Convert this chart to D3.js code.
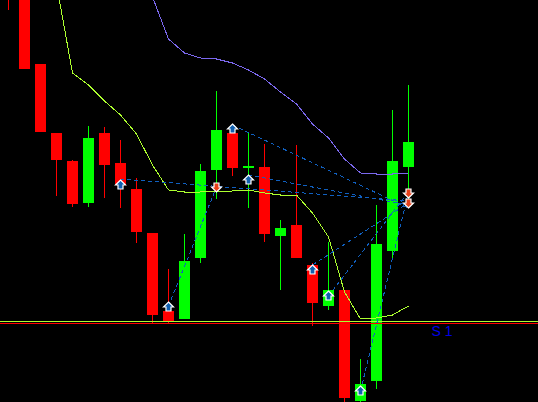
<!DOCTYPE html>
<html><head><meta charset="utf-8">
<script src="https://cdn.jsdelivr.net/npm/d3@7"></script>
<style>html,body{margin:0;padding:0;background:#000;overflow:hidden}svg{display:block}</style>
</head><body><svg id="c" width="538" height="402"></svg>
<script>
// Candles, by bar index 0..25 (price units)
const open  = [422,412,338,269,241,199,269,239,213,169,91,83,144,232,269,234,235,166,177,137,96,112,1,21,151,235];
const close = [407,333,270,242,198,264,237,217,170,87,81,141,231,272,234,236,168,174,144,99,112,4,18,158,241,260];
const high  = [432,417,338,269,242,276,275,262,224,169,133,168,238,311,274,269,258,182,257,139,160,112,43,197,292,317];
const low   = [392,333,270,206,195,195,204,194,159,79,79,83,139,203,226,194,160,112,144,76,92,-3,-3,13,144,195];
// Moving averages
const slowStart = 9;
const slowMA = [405,363,349,344,343,339,332,323,310,298,278,264,243,229,228,228,229];
const fastStart = 3;
const fastMA = [418,329,317,301,287,268,237,212,210,210,211,211,212,209,207,207,189,165,110,83,84,87,96];
// Signal arrows
const upIdx   = [7,10,14,15,19,20,22];
const upPrice = [217,95,273,222,132,106,11];
const downIdx   = [13,25,25];
const downPrice = [215,209,199];
// Dashed links between signals
const linkFromIdx   = [7,10,14,15,19,20,22];
const linkFromPrice = [223,96,277,227,137,106,11];
const linkToIdx     = [25,13,25,25,25,25,25];
const linkToPrice   = [201,215,194,197,199,210,210];
// Horizontal levels
const levelPrices = [81,79];
const levelColors = ["#adff2f","#ff0000"];
const levelLabel = "S 1";
const levelLabelIdx = 26.5;

const W = 538, H = 402;
const x = d3.scaleLinear().domain([0,25]).range([8,408]);
const y = d3.scaleLinear().domain([0,402]).range([402,0]);
const svg = d3.select("#c");
svg.append("rect").attr("width",W).attr("height",H).attr("fill","#000");
const bars = d3.range(open.length);
const col = i => close[i] >= open[i] ? "#00ff00" : "#ff0000";

const g = svg.append("g").attr("shape-rendering","crispEdges");
g.selectAll(".wick").data(bars).join("rect").attr("class","wick")
  .attr("x",i=>x(i)).attr("width",1)
  .attr("y",i=>y(high[i])).attr("height",i=>y(low[i])-y(high[i]))
  .attr("fill",col);
g.selectAll(".body").data(bars).join("rect").attr("class","body")
  .attr("x",i=>x(i)-5).attr("width",11)
  .attr("y",i=>y(Math.max(open[i],close[i])))
  .attr("height",i=>Math.abs(y(open[i])-y(close[i])))
  .attr("fill",col);

const line = start => d3.line().x((d,k)=>x(k+start)+0.5).y(d=>y(d));
svg.append("path").attr("d",line(slowStart)(slowMA)).attr("fill","none")
  .attr("stroke","#7b68ee").attr("stroke-width",1).attr("shape-rendering","crispEdges");
svg.append("path").attr("d",line(fastStart)(fastMA)).attr("fill","none")
  .attr("stroke","#adff2f").attr("stroke-width",1).attr("shape-rendering","crispEdges");

svg.selectAll(".lvl").data(levelPrices).join("rect").attr("class","lvl")
  .attr("x",0).attr("width",W).attr("y",d=>y(d)).attr("height",1)
  .attr("shape-rendering","crispEdges")
  .attr("fill",(d,i)=>levelColors[i]);

svg.selectAll(".link").data(linkFromIdx).join("line").attr("class","link")
  .attr("x1",(d,i)=>x(linkFromIdx[i])+0.5).attr("y1",(d,i)=>y(linkFromPrice[i]))
  .attr("x2",(d,i)=>x(linkToIdx[i])+0.5).attr("y2",(d,i)=>y(linkToPrice[i]))
  .attr("stroke","#1060c0").attr("stroke-width",1).attr("stroke-dasharray","4 3")
  .attr("shape-rendering","crispEdges");

const upShape = "M0,-5 L5,0 L2.5,0 L2.5,4 L-2.5,4 L-2.5,0 L-5,0 Z";
const downShape = "M0,5 L5,0 L2.5,0 L2.5,-4 L-2.5,-4 L-2.5,0 L-5,0 Z";
svg.selectAll(".up").data(upIdx).join("path").attr("class","up").attr("d",upShape)
  .attr("transform",(d,i)=>`translate(${x(d)+0.5},${y(upPrice[i])})`)
  .attr("fill","#1060b0").attr("stroke","#fff").attr("stroke-width",1.2);
svg.selectAll(".down").data(downIdx).join("path").attr("class","down").attr("d",downShape)
  .attr("transform",(d,i)=>`translate(${x(d)+0.5},${y(downPrice[i])})`)
  .attr("fill","#e8401a").attr("stroke","#fff").attr("stroke-width",1.2);

svg.append("text").attr("x",x(levelLabelIdx)-0.5).attr("y",y(levelPrices[1])+13)
  .attr("font-family","Liberation Sans, Arial, sans-serif").attr("font-size",14)
  .attr("fill","#0000e6").attr("xml:space","preserve").text(levelLabel);
</script></body></html>
